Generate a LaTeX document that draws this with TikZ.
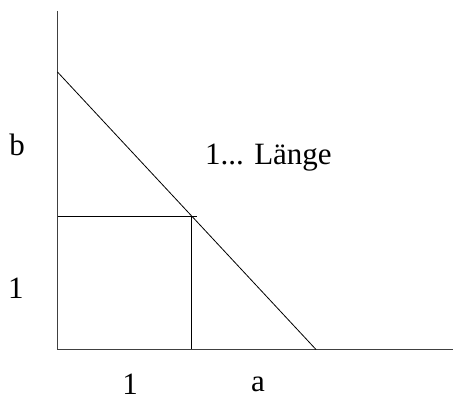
\documentclass[tikz,border=0pt]{standalone}
\usepackage{fontspec}
\setmainfont{Liberation Serif}
\begin{document}
\begin{tikzpicture}[x=1pt,y=-1pt,
    axis/.style={draw=black!75, line width=1.2pt},
    thin line/.style={draw=black, line width=0.8pt},
    lbl/.style={font=\fontsize{31}{36}\selectfont, inner sep=0pt}]
\useasboundingbox (0,0) rectangle (453,414);

% Achsen
\coordinate (O) at (57.5,349.5);
\coordinate (ytop) at (57.5,11);
\coordinate (xend) at (453,349.5);
\draw[axis] (ytop) -- (O) -- (xend);

% Gerade (Leiter)
\coordinate (B) at (57.5,72);
\coordinate (A) at (316,349.5);
\draw[thin line] (B) -- (A);

% Quadrat
\coordinate (Q1) at (57.5,216);
\coordinate (Q2) at (197,216);
\coordinate (Q3) at (191,216);
\coordinate (Q4) at (191,349.5);
\draw[thin line] (Q1) -- (Q2);
\draw[thin line] (Q3) -- (Q4);

% Beschriftungen
\node[lbl] (lb) at (17,145) {b};
\node[lbl] (l1y) at (16,288) {1};
\node[lbl, anchor=west] (laenge) at (205,158) {1... Länge};
\node[lbl] (l1x) at (130,384) {1};
\node[lbl] (la) at (258,384) {a};
\end{tikzpicture}
\end{document}
